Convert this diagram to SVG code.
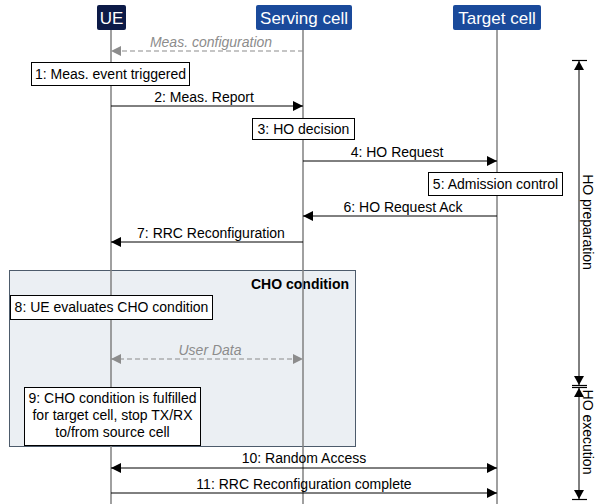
<svg xmlns="http://www.w3.org/2000/svg" width="595" height="504" viewBox="0 0 595 504">
<defs>
<marker id="ah" markerWidth="10" markerHeight="10" refX="10" refY="5" orient="auto-start-reverse" markerUnits="userSpaceOnUse"><path d="M0,0 L10,5 L0,10 z" fill="#000"/></marker>
<marker id="ahg" markerWidth="10" markerHeight="10" refX="10" refY="5" orient="auto-start-reverse" markerUnits="userSpaceOnUse"><path d="M0,0 L10,5 L0,10 z" fill="#8c8c8c"/></marker>
</defs>
<style>
text{font-family:"Liberation Sans",Arial,sans-serif;}
.hd{fill:#fff;font-size:17px;text-anchor:middle;}
.lbl{font-size:14px;fill:#000;text-anchor:middle;}
.it{font-size:14px;fill:#8c8c8c;font-style:italic;text-anchor:middle;}
.box{fill:#fff;stroke:#000;stroke-width:1;}
.life{stroke:#808080;stroke-width:1.5;}
.msg{stroke:#000;stroke-width:1;fill:none;}
.dash{stroke:#8c8c8c;stroke-width:1.2;stroke-dasharray:5,3;fill:none;}
.cap{stroke:#000;stroke-width:1.2;}
</style>
<rect width="595" height="504" fill="#fff"/>
<g id="cho-frame">
<rect x="9.5" y="270.5" width="346" height="176" fill="#ebeff3" stroke="#4d5b6b" stroke-width="1"/>
<text x="349" y="289" style="font-size:14px;font-weight:bold;text-anchor:end;">CHO condition</text>
</g>
<g id="lifelines">
<line class="life" x1="111" y1="30" x2="111" y2="504"/>
<line class="life" x1="303" y1="30" x2="303" y2="504"/>
<line class="life" x1="497" y1="30" x2="497" y2="504"/>
</g>
<g id="ue"><rect x="97" y="5" width="29" height="25" rx="2" fill="#0c1a47"/><text class="hd" x="111.5" y="24">UE</text></g>
<g id="serving"><rect x="256" y="5" width="96" height="25" rx="2" fill="#1a4a9b"/><text class="hd" x="304" y="24">Serving cell</text></g>
<g id="target"><rect x="453" y="5" width="88" height="25" rx="2" fill="#1a4a9b"/><text class="hd" x="497" y="24">Target cell</text></g>
<g id="connectors">
<line class="dash" x1="303" y1="51" x2="111" y2="51" marker-end="url(#ahg)"/>
<text class="it" x="211" y="47">Meas. configuration</text>
<line class="msg" x1="111" y1="106" x2="303" y2="106" marker-end="url(#ah)"/>
<text class="lbl" x="204" y="102">2: Meas. Report</text>
<line class="msg" x1="303" y1="161" x2="497" y2="161" marker-end="url(#ah)"/>
<text class="lbl" x="397" y="157">4: HO Request</text>
<line class="msg" x1="497" y1="216" x2="303" y2="216" marker-end="url(#ah)"/>
<text class="lbl" x="403" y="212">6: HO Request Ack</text>
<line class="msg" x1="303" y1="242" x2="111" y2="242" marker-end="url(#ah)"/>
<text class="lbl" x="211" y="238">7: RRC Reconfiguration</text>
<line class="dash" x1="111" y1="359" x2="303" y2="359" marker-start="url(#ahg)" marker-end="url(#ahg)"/>
<text class="it" x="210" y="355">User Data</text>
<line class="msg" x1="111" y1="468" x2="497" y2="468" marker-start="url(#ah)" marker-end="url(#ah)"/>
<text class="lbl" x="304" y="463">10: Random Access</text>
<line class="msg" x1="111" y1="493" x2="497" y2="493" marker-end="url(#ah)"/>
<text class="lbl" x="304" y="489">11: RRC Reconfiguration complete</text>
</g>
<g id="n1"><rect class="box" x="31.5" y="62.5" width="158" height="23"/><text class="lbl" x="110.5" y="79">1: Meas. event triggered</text></g>
<g id="n3"><rect class="box" x="252.5" y="118.5" width="102" height="21"/><text class="lbl" x="303.5" y="134">3: HO decision</text></g>
<g id="n5"><rect class="box" x="428.5" y="172.5" width="134" height="23"/><text class="lbl" x="495.5" y="189">5: Admission control</text></g>
<g id="n8"><rect class="box" x="10.5" y="295.5" width="202" height="24"/><text class="lbl" x="111.5" y="312">8: UE evaluates CHO condition</text></g>
<g id="n9"><rect class="box" x="24.5" y="387.5" width="176" height="58"/>
<text class="lbl" x="112.5" y="403">9: CHO condition is fulfilled</text>
<text class="lbl" x="112.5" y="420">for target cell, stop TX/RX</text>
<text class="lbl" x="112.5" y="437">to/from source cell</text></g>
<g id="phases">
<line x1="579" y1="61" x2="579" y2="385" stroke="#000" stroke-width="1"/>
<line class="cap" x1="572" y1="60.5" x2="587" y2="60.5"/>
<path d="M579,61 L574,70 L584,70 z" fill="#000"/>
<path d="M579,385 L574,376 L584,376 z" fill="#000"/>
<line class="cap" x1="572" y1="385.5" x2="587" y2="385.5"/>
<line x1="579" y1="387" x2="579" y2="499" stroke="#000" stroke-width="1"/>
<line class="cap" x1="572" y1="387.5" x2="587" y2="387.5"/>
<path d="M579,388 L574,397 L584,397 z" fill="#000"/>
<path d="M579,499 L574,490 L584,490 z" fill="#000"/>
<line class="cap" x1="572" y1="499.5" x2="587" y2="499.5"/>
<text transform="translate(583,222) rotate(90)" style="font-size:14px;text-anchor:middle;">HO preparation</text>
<text transform="translate(583,432) rotate(90)" style="font-size:14px;text-anchor:middle;">HO execution</text>
</g>
</svg>
